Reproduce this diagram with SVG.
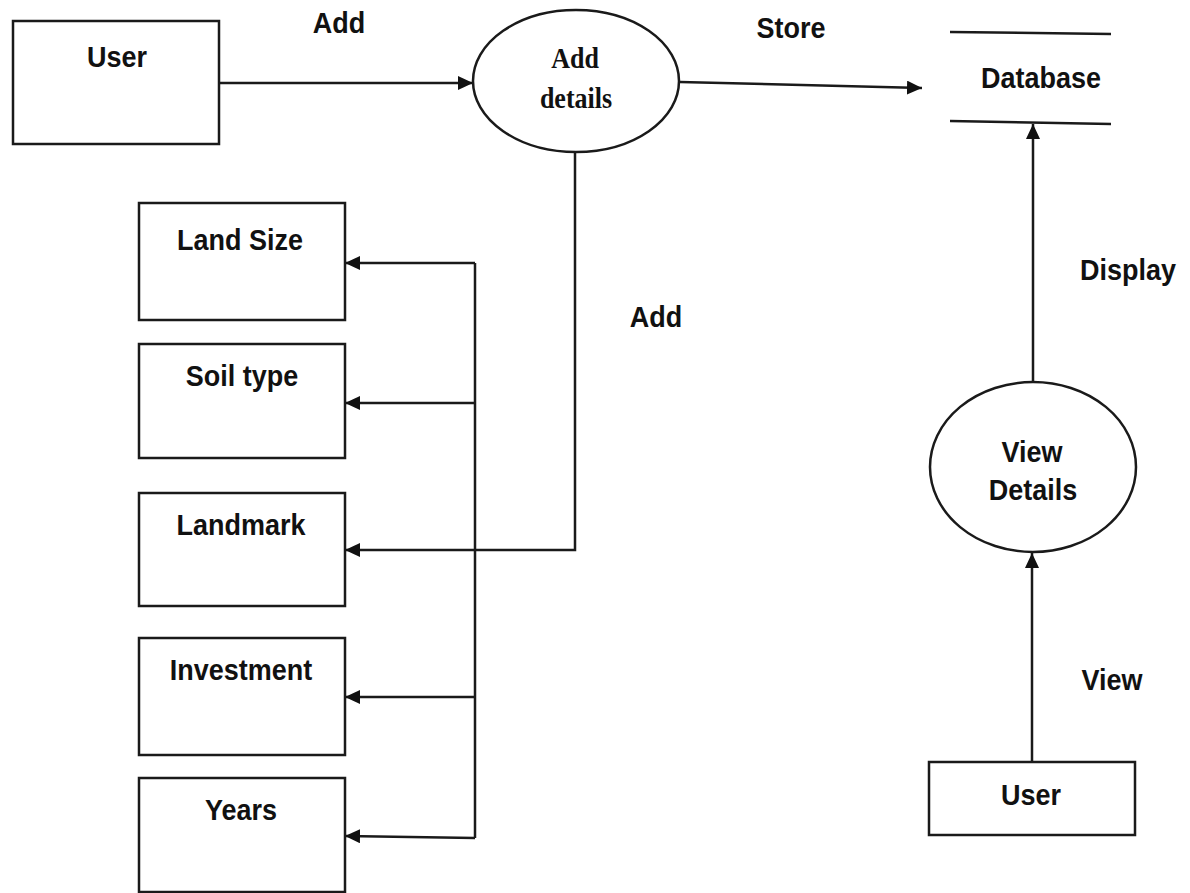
<svg xmlns="http://www.w3.org/2000/svg" width="1190" height="893" viewBox="0 0 1190 893">
  <style>
    .box { fill: #ffffff; stroke: #1a1a1a; stroke-width: 2.5; }
    .line { fill: none; stroke: #1a1a1a; stroke-width: 2.5; }
    .lbl { font-family: "Liberation Sans", Arial, sans-serif; font-weight: bold; font-size: 27px; fill: #111111; text-anchor: middle; }
    .serif { font-family: "Liberation Serif", "Times New Roman", serif; font-weight: bold; font-size: 26px; fill: #111111; text-anchor: middle; }
  </style>
  <defs>
    <marker id="arrow" markerUnits="userSpaceOnUse" markerWidth="16" markerHeight="14" refX="15" refY="7" orient="auto">
      <path d="M0,0 L15,7 L0,14 Z" fill="#111111"/>
    </marker>
  </defs>
  <rect width="1190" height="893" fill="#ffffff"/>

  <!-- connectors -->
  <g id="connectors">
    <line class="line" x1="219" y1="83" x2="473" y2="83" marker-end="url(#arrow)"/>
    <line class="line" x1="680" y1="82" x2="922" y2="88" marker-end="url(#arrow)"/>
    <polyline class="line" points="575,152 575,550 475,550"/>
    <line class="line" x1="475" y1="263" x2="475" y2="838"/>
    <line class="line" x1="475" y1="263" x2="345" y2="263" marker-end="url(#arrow)"/>
    <line class="line" x1="475" y1="403" x2="345" y2="403" marker-end="url(#arrow)"/>
    <line class="line" x1="475" y1="550" x2="345" y2="550" marker-end="url(#arrow)"/>
    <line class="line" x1="475" y1="697" x2="345" y2="697" marker-end="url(#arrow)"/>
    <line class="line" x1="475" y1="838" x2="345" y2="836" marker-end="url(#arrow)"/>
    <line class="line" x1="1033" y1="382" x2="1033" y2="124" marker-end="url(#arrow)"/>
    <line class="line" x1="1032" y1="762" x2="1032" y2="553" marker-end="url(#arrow)"/>
    <text class="lbl" transform="translate(339,33) scale(1,1.12)">Add</text>
    <text class="lbl" transform="translate(791,38) scale(1,1.12)">Store</text>
    <text class="lbl" transform="translate(656,327) scale(1,1.12)">Add</text>
    <text class="lbl" transform="translate(1128,280) scale(1,1.12)">Display</text>
    <text class="lbl" transform="translate(1112,690) scale(1,1.12)">View</text>
  </g>

  <g id="user-top">
    <rect class="box" x="13" y="21" width="206" height="123"/>
    <text class="lbl" transform="translate(117,67) scale(1,1.12)">User</text>
  </g>

  <g id="add-details">
    <ellipse class="box" cx="576" cy="81" rx="103" ry="71"/>
    <text class="serif" transform="translate(575,68) scale(1,1.12)">Add</text>
    <text class="serif" transform="translate(576,108) scale(1,1.12)">details</text>
  </g>

  <g id="database">
    <line class="line" x1="950" y1="32" x2="1111" y2="34"/>
    <line class="line" x1="950" y1="121" x2="1111" y2="124"/>
    <text class="lbl" transform="translate(1041,88) scale(1,1.12)">Database</text>
  </g>

  <g id="land-size">
    <rect class="box" x="139" y="203" width="206" height="117"/>
    <text class="lbl" transform="translate(240,250) scale(1,1.12)">Land Size</text>
  </g>

  <g id="soil-type">
    <rect class="box" x="139" y="344" width="206" height="114"/>
    <text class="lbl" transform="translate(242,386) scale(1,1.12)">Soil type</text>
  </g>

  <g id="landmark">
    <rect class="box" x="139" y="493" width="206" height="113"/>
    <text class="lbl" transform="translate(241,535) scale(1,1.12)">Landmark</text>
  </g>

  <g id="investment">
    <rect class="box" x="139" y="638" width="206" height="117"/>
    <text class="lbl" transform="translate(241,680) scale(1,1.12)">Investment</text>
  </g>

  <g id="years">
    <rect class="box" x="139" y="778" width="206" height="114"/>
    <text class="lbl" transform="translate(241,820) scale(1,1.12)">Years</text>
  </g>

  <g id="view-details">
    <ellipse class="box" cx="1033" cy="467" rx="103" ry="85"/>
    <text class="lbl" transform="translate(1032,462) scale(1,1.12)">View</text>
    <text class="lbl" transform="translate(1033,500) scale(1,1.12)">Details</text>
  </g>

  <g id="user-bottom">
    <rect class="box" x="929" y="762" width="206" height="73"/>
    <text class="lbl" transform="translate(1031,805) scale(1,1.12)">User</text>
  </g>
</svg>
